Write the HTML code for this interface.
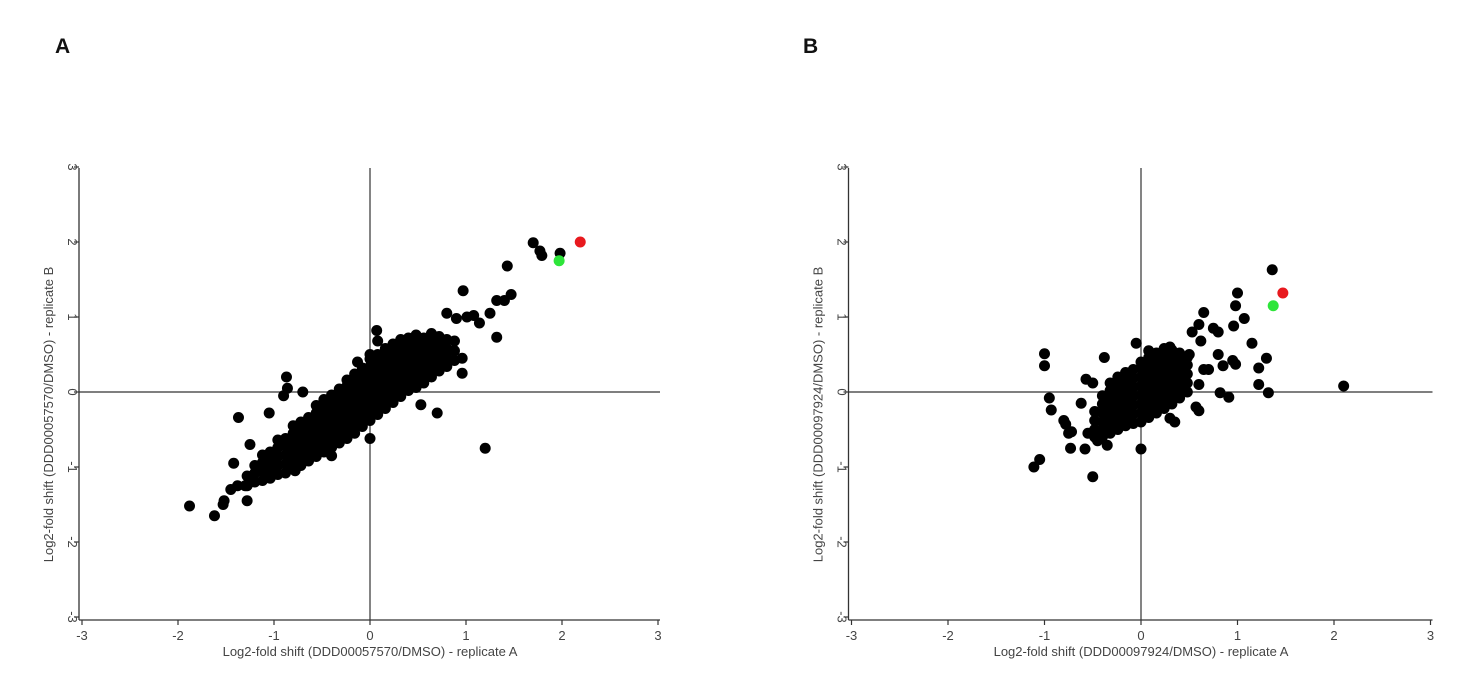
<!DOCTYPE html>
<html><head><meta charset="utf-8"><style>
body{margin:0;background:#fff;}
svg{display:block;font-family:"Liberation Sans",Arial,sans-serif;}
</style></head><body>
<svg id="fig" width="1477" height="684">
<text x="55" y="53" font-size="21" font-weight="bold" fill="#111">A</text>
<text x="803" y="53" font-size="21" font-weight="bold" fill="#111">B</text>
</svg>
<script>
const ticks=[-3,-2,-1,0,1,2,3];
// Panel A core cloud: column x values and y values per column
const aColX=[-1.28,-1.2,-1.12,-1.04,-0.96,-0.88,-0.8,-0.72,-0.64,-0.56,-0.48,-0.4,-0.32,-0.24,-0.16,-0.08,0,0.08,0.16,0.24,0.32,0.4,0.48,0.56,0.64,0.72,0.8,0.88];
const aColY=[[-1.25,-1.12],[-1.2,-1.08,-0.98],[-1.18,-1.06,-0.94,-0.84],[-1.15,-1.03,-0.91,-0.8],[-1.1,-0.98,-0.86,-0.74,-0.64],[-1.08,-0.96,-0.84,-0.72,-0.62],[-1.02,-0.9,-0.78,-0.66,-0.55,-0.45],[-0.98,-0.86,-0.74,-0.62,-0.5,-0.4],[-0.92,-0.8,-0.68,-0.56,-0.44,-0.34],[-0.86,-0.74,-0.62,-0.5,-0.38,-0.28,-0.18],[-0.8,-0.68,-0.56,-0.44,-0.32,-0.2,-0.1],[-0.74,-0.62,-0.5,-0.38,-0.26,-0.14,-0.04],[-0.68,-0.56,-0.44,-0.32,-0.2,-0.08,0.04],[-0.62,-0.5,-0.38,-0.26,-0.14,-0.02,0.08,0.16],[-0.55,-0.43,-0.31,-0.19,-0.07,0.05,0.15,0.24],[-0.46,-0.34,-0.22,-0.1,0.02,0.14,0.24,0.32],[-0.38,-0.26,-0.14,-0.02,0.1,0.22,0.34,0.44],[-0.3,-0.18,-0.06,0.06,0.18,0.3,0.42,0.5],[-0.22,-0.1,0.02,0.14,0.26,0.38,0.5,0.58],[-0.14,-0.02,0.1,0.22,0.34,0.46,0.56,0.64],[-0.06,0.06,0.18,0.3,0.42,0.54,0.62,0.7],[0.02,0.14,0.26,0.38,0.5,0.62,0.72],[0.06,0.18,0.3,0.42,0.54,0.66,0.76],[0.12,0.24,0.36,0.48,0.6,0.72],[0.2,0.32,0.44,0.56,0.68,0.78],[0.28,0.4,0.52,0.64,0.74],[0.34,0.46,0.58,0.7],[0.42,0.55,0.68]];
const aOutX=[1.7,1.77,1.79,1.98,1.43,0.97,1.47,1.32,1.4,1.25,1.08,1.01,0.8,0.9,1.14,1.32,1.2,0.7,0.53,-1.88,-1.62,-1.53,-1.52,-1.45,-1.28,-1.38,-1.3,-1.37,-1.05,-1.0,-0.87,-0.86,-0.7,-0.4,-0.78,0.07,0.08,0.0,-0.13,0.0,-0.9,-1.25,-1.1,-1.42,0.96,0.96];
const aOutY=[1.99,1.88,1.82,1.85,1.68,1.35,1.3,1.22,1.22,1.05,1.02,1.0,1.05,0.98,0.92,0.73,-0.75,-0.28,-0.17,-1.52,-1.65,-1.5,-1.45,-1.3,-1.45,-1.25,-1.25,-0.34,-0.28,-0.97,0.2,0.05,0.0,-0.85,-1.05,0.82,0.68,0.5,0.4,-0.62,-0.05,-0.7,-0.95,-0.95,0.25,0.45];
const aRed=[2.19,2.0], aGreen=[1.97,1.75];
// Panel B
const bColX=[-0.48,-0.4,-0.32,-0.24,-0.16,-0.08,0,0.08,0.16,0.24,0.32,0.4,0.48];
const bColY=[[-0.6,-0.5,-0.38,-0.26],[-0.6,-0.5,-0.4,-0.28,-0.16,-0.05],[-0.55,-0.45,-0.34,-0.22,-0.1,0.02,0.12],[-0.5,-0.38,-0.26,-0.14,-0.02,0.1,0.2],[-0.45,-0.33,-0.21,-0.09,0.03,0.15,0.26],[-0.42,-0.3,-0.18,-0.06,0.06,0.18,0.3],[-0.4,-0.28,-0.16,-0.04,0.08,0.2,0.32,0.4],[-0.34,-0.22,-0.1,0.02,0.14,0.26,0.38,0.46],[-0.28,-0.16,-0.04,0.08,0.2,0.32,0.44,0.52],[-0.22,-0.1,0.02,0.14,0.26,0.38,0.5,0.58],[-0.16,-0.04,0.08,0.2,0.32,0.44,0.56],[-0.08,0.04,0.16,0.28,0.4,0.52],[0.0,0.12,0.24,0.36,0.46]];
const bOutX=[2.1,1.36,1.0,0.98,1.07,0.96,0.65,0.6,0.53,0.8,0.75,1.15,1.3,1.22,1.22,1.32,0.95,0.98,0.91,0.82,0.85,0.8,0.62,0.7,0.57,0.6,0.35,0.3,-1.0,-1.0,-0.95,-0.93,-0.8,-0.78,-0.75,-0.72,-0.73,-0.58,-0.62,-0.57,-0.5,-1.11,-1.05,-0.5,-0.35,0.0,-0.05,-0.38,0.08,0.3,0.5,-0.55,-0.45,0.6,0.65];
const bOutY=[0.08,1.63,1.32,1.15,0.98,0.88,1.06,0.9,0.8,0.8,0.85,0.65,0.45,0.32,0.1,-0.01,0.42,0.37,-0.07,-0.01,0.35,0.5,0.68,0.3,-0.2,-0.25,-0.4,-0.35,0.51,0.35,-0.08,-0.24,-0.38,-0.43,-0.55,-0.53,-0.75,-0.76,-0.15,0.17,0.12,-1.0,-0.9,-1.13,-0.71,-0.76,0.65,0.46,0.55,0.6,0.5,-0.55,-0.65,0.1,0.3];
const bRed=[1.47,1.32], bGreen=[1.37,1.15];

const NS='http://www.w3.org/2000/svg';
const svg=document.getElementById('fig');
function mk(tag,attrs,parent){const e=document.createElementNS(NS,tag);for(const k in attrs)e.setAttribute(k,attrs[k]);(parent||svg).appendChild(e);return e;}

function panel(p,x0,ux,xLabel,colX,colY,outX,outY,red,green){
  const y0=392,uy=75;
  const sx=v=>x0+v*ux, sy=v=>y0-v*uy;
  const g=mk('g',{});
  
  
  const left=sx(-3)-3, right=sx(3)+2, top=sy(3)+1, bottom=sy(-3)+3;
  let l=mk('line',{x1:left,y1:top,x2:left,y2:bottom,stroke:'#333','stroke-width':1.3},g);
  
  l=mk('line',{x1:left,y1:bottom,x2:right,y2:bottom,stroke:'#333','stroke-width':1.3},g);
  
  l=mk('line',{x1:left,y1:sy(0),x2:right,y2:sy(0),stroke:'#333','stroke-width':1.2},g);
  
  l=mk('line',{x1:sx(0),y1:top,x2:sx(0),y2:bottom,stroke:'#333','stroke-width':1.2},g);
  
  ticks.forEach(t=>{
    let tk=mk('line',{x1:sx(t),y1:bottom,x2:sx(t),y2:bottom+5,stroke:'#333','stroke-width':1.2},g);
    
    let tx=mk('text',{x:sx(t),y:bottom+20,'font-size':13,fill:'#444','text-anchor':'middle'},g);
    tx.textContent=t;
    
    tk=mk('line',{x1:left-5,y1:sy(t),x2:left,y2:sy(t),stroke:'#333','stroke-width':1.2},g);
    
    const lx=left-11, ly=sy(t);
    tx=mk('text',{x:lx,y:ly,'font-size':13,fill:'#444','text-anchor':'middle',transform:'rotate(90 '+lx+' '+ly+')'},g);
    tx.textContent=t;
    
  });
  let xt=mk('text',{x:sx(0),y:bottom+36,'font-size':13,fill:'#444','text-anchor':'middle'},g);
  xt.textContent=xLabel.x;
  
  const yx=left-26, yy=sy(-0.3);
  let yt=mk('text',{x:yx,y:yy,'font-size':13,fill:'#444','text-anchor':'middle',transform:'rotate(-90 '+yx+' '+yy+')'},g);
  yt.textContent=xLabel.y;
  
  const r=5.5;
  colX.forEach((cx,i)=>colY[i].forEach(cy=>{
    const c=mk('circle',{cx:sx(cx),cy:sy(cy),r:r,fill:'#000'},g);
    
    
  }));
  outX.forEach((ox,i)=>{
    const c=mk('circle',{cx:sx(ox),cy:sy(outY[i]),r:r,fill:'#000'},g);
    
    
  });
  let c=mk('circle',{cx:sx(red[0]),cy:sy(red[1]),r:r,fill:'#e8191e'},g);
  
  
  c=mk('circle',{cx:sx(green[0]),cy:sy(green[1]),r:r,fill:'#2ee53a'},g);
  
  
}
panel('a',370,96,{x:'Log2-fold shift (DDD00057570/DMSO) - replicate A',y:'Log2-fold shift (DDD00057570/DMSO) - replicate B'},aColX,aColY,aOutX,aOutY,aRed,aGreen);
panel('b',1141,96.5,{x:'Log2-fold shift (DDD00097924/DMSO) - replicate A',y:'Log2-fold shift (DDD00097924/DMSO) - replicate B'},bColX,bColY,bOutX,bOutY,bRed,bGreen);
</script>
</body></html>
